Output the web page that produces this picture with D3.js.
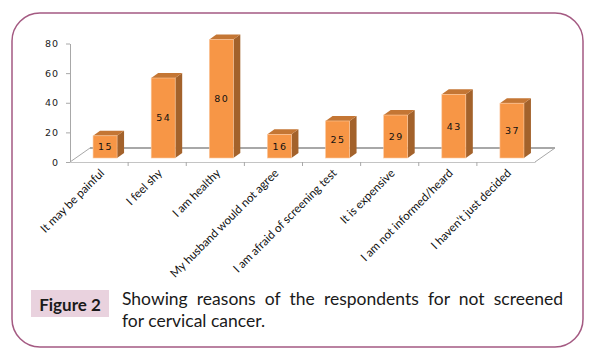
<!DOCTYPE html>
<html><head><meta charset="utf-8">
<script src="https://cdn.jsdelivr.net/npm/d3@7/dist/d3.min.js"></script>
<style>html,body{margin:0;padding:0;background:#fff;}svg{display:block;}</style>
</head><body>
<svg id="c" width="599" height="353"></svg>
<script>
const categories = ["It may be painful","I feel shy","I am healthy","My husband would not agree","I am afraid of screening test","It is expensive","I am not informed/heard","I haven't just decided"];
const values = [15,54,80,16,25,29,43,37];
const yTicks = [0,20,40,60,80];
const figLabel = "Figure 2";
const captionLines = ["Showing reasons of the respondents for not screened","for cervical cancer."];

const svg = d3.select("#c");
// outer rounded frame
const fx=12, fy=13, fw=571, fh=334, r=28;
svg.append("path")
  .attr("d",`M${fx+r},${fy} H${fx+fw-r} A${r},${r} 0 0 1 ${fx+fw},${fy+r} V${fy+fh-r} A${r},${r} 0 0 1 ${fx+fw-r},${fy+fh} H${fx+r} A${r},${r} 0 0 1 ${fx},${fy+fh-r} V${fy+r} A${r},${r} 0 0 1 ${fx+r},${fy} Z`)
  .attr("fill","none").attr("stroke","#a45a82").attr("stroke-width",1.5);

const x0=70, x1=535, yBase=162, yTop=43.5;
const x = d3.scaleBand().domain(categories).range([x0,x1]).paddingInner(0).paddingOuter(0);
const y = d3.scaleLinear().domain([0,80]).range([yBase,yTop]);
const fdx=20, fdy=-14; // floor depth
const bdx=7, bdy=-5;   // bar depth
const boffx=6, boffy=-4; // bar front offset
const bw=24;

// floor
const g = svg.append("g");
g.append("line").attr("x1",x0+fdx).attr("y1",yBase+fdy).attr("x2",x1+fdx).attr("y2",yBase+fdy).attr("stroke","#a8a8a8").attr("stroke-width",2);
g.append("line").attr("x1",x0).attr("y1",yBase).attr("x2",x0+fdx).attr("y2",yBase+fdy).attr("stroke","#a8a8a8");
g.append("line").attr("x1",x1).attr("y1",yBase).attr("x2",x1+fdx).attr("y2",yBase+fdy).attr("stroke","#a8a8a8");

// y axis
const ya = g.append("g").attr("transform",`translate(${x0},0)`)
  .call(d3.axisLeft(y).tickValues(yTicks).tickSize(4).tickPadding(7).tickSizeOuter(0));
ya.select(".domain").attr("stroke","#a8a8a8");
ya.selectAll(".tick line").attr("stroke","#a8a8a8");
ya.selectAll(".tick text").attr("font-family","DejaVu Sans").attr("font-size",9.5).attr("letter-spacing","1px").attr("fill","#222");

// x axis
const xa = g.append("g").attr("transform",`translate(0,${yBase})`)
  .call(d3.axisBottom(x).tickSize(0).tickSizeOuter(0));
xa.select(".domain").attr("stroke","#c4c4c4");
xa.selectAll(".tick").remove();
const bounds = categories.map(c=>x(c)).concat([x1]).slice(1,-1);
xa.selectAll(".bt").data(bounds).enter().append("line")
  .attr("x1",d=>d).attr("x2",d=>d).attr("y1",0).attr("y2",4).attr("stroke","#a8a8a8");
xa.selectAll(".cl").data(categories).enter().append("text")
  .attr("transform",c=>`translate(${x(c)+x.bandwidth()/2+3},${9}) rotate(-45)`)
  .attr("text-anchor","end").attr("dy","0.35em")
  .attr("font-family","Lato").attr("font-size",11.6).attr("fill","#111")
  .text(c=>c);

// bars
const bars = g.selectAll(".bar").data(categories.map((c,i)=>({c,v:values[i]}))).enter().append("g");
bars.each(function(d){
  const s = d3.select(this);
  const xl = x(d.c)+x.bandwidth()/2+boffx-bw/2, xr = xl+bw;
  const yb = y(0)+boffy, yt = y(d.v)+boffy;
  s.append("path").attr("d",`M${xr},${yt} L${xr+bdx},${yt+bdy} L${xr+bdx},${yb+bdy} L${xr},${yb} Z`).attr("fill","#a3622b");
  s.append("path").attr("d",`M${xl},${yt} L${xl+bdx},${yt+bdy} L${xr+bdx},${yt+bdy} L${xr},${yt} Z`).attr("fill","#c47634");
  s.append("rect").attr("x",xl).attr("y",yt).attr("width",bw).attr("height",yb-yt).attr("fill","#f79646").attr("stroke","#fbc9a0").attr("stroke-width",0.6);
  s.append("text").attr("x",(xl+xr)/2+0.5).attr("y",(yt+yb)/2).attr("dy","0.36em").attr("text-anchor","middle")
    .attr("font-family","DejaVu Sans").attr("font-size",9.5).attr("letter-spacing","1.5px").attr("fill","#111").text(d.v);
});

// caption
svg.append("rect").attr("x",31).attr("y",290).attr("width",78).attr("height",27).attr("fill","#e9d2de");
svg.append("text").attr("x",70).attr("y",311).attr("text-anchor","middle").attr("font-family","Lato").attr("font-weight","bold")
  .attr("font-size",17).attr("fill","#1a1a1a").text(figLabel);
const capX=122, capR=563;
captionLines.forEach((t,i)=>{
  const tx = svg.append("text").attr("x",capX).attr("y",305+i*22).attr("font-family","Lato").attr("font-size",17.5).attr("fill","#1a1a1a").text(t);
  if(i===0){
    const w = tx.node().getComputedTextLength();
    const n = t.split(" ").length-1;
    tx.attr("word-spacing",((capR-capX)-w)/n+"px");
  }
});
</script>
</body></html>
